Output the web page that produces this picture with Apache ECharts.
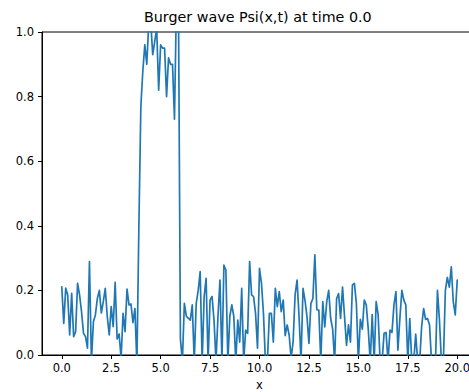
<!DOCTYPE html>
<html>
<head>
<meta charset="utf-8">
<script src="https://cdn.jsdelivr.net/npm/echarts@6/dist/echarts.min.js"></script>
<style>
html,body{margin:0;padding:0;background:#fff;overflow:hidden;}
#chart{width:469px;height:392px;}
</style>
</head>
<body>
<div id="chart"></div>
<script>
// Sample grid: x from 0 to 20 in steps of 0.1
const X_START = 0;
const X_STEP = 0.1;
// Psi(x, t=0) values (values outside [0,1] are clipped by the axes)
const psi = [
  0.211, 0.098, 0.207, 0.186, 0.062, 0.191, 0.057, 0.072, 0.222, 0.186,
  0.134, 0.067, 0.057, 0.021, 0.289, -0.02, 0.103, 0.124, 0.175, 0.200,
  0.130, 0.165, 0.206, 0.120, 0.062, 0.150, 0.088, 0.225, 0.050, 0.065,
  -0.01, 0.129, 0.072, 0.204, 0.155, 0.158, 0.100, 0.144, -0.03, 0.400,
  0.770, 0.880, 0.960, 0.900, 1.030, 1.030, 0.930, 0.970, 1.010, 0.820,
  0.960, 0.950, 0.950, 0.800, 0.920, 0.900, 0.900, 0.730, 1.100, 1.100,
  0.050, -0.02, 0.160, 0.120, 0.114, 0.108, 0.155, -0.02, 0.160, 0.200,
  0.258, -0.02, 0.180, 0.237, -0.02, 0.170, 0.181, 0.108, -0.02, 0.120,
  0.232, -0.02, 0.278, 0.263, -0.02, 0.120, 0.155, 0.120, -0.02, 0.108,
  0.040, 0.206, -0.02, 0.077, 0.067, 0.289, 0.186, 0.181, 0.129, 0.021,
  0.268, 0.222, 0.129, -0.02, -0.02, 0.129, 0.129, 0.040, 0.206, 0.150,
  0.196, 0.134, 0.170, 0.060, 0.093, 0.062, -0.01, 0.041, 0.186, 0.232,
  0.120, -0.02, 0.206, 0.170, 0.120, 0.036, 0.160, 0.175, 0.310, 0.140,
  0.139, -0.02, 0.165, 0.087, 0.165, 0.200, 0.113, 0.080, -0.02, 0.175,
  0.190, 0.113, 0.210, 0.120, 0.030, 0.093, 0.040, 0.217, 0.222, 0.160,
  -0.02, 0.110, 0.080, 0.170, 0.155, 0.080, -0.02, 0.125, -0.02, 0.165,
  0.125, -0.02, -0.02, 0.067, 0.070, -0.02, 0.077, 0.070, 0.155, 0.196,
  0.015, 0.114, 0.200, 0.170, 0.155, -0.02, 0.113, -0.02, -0.02, 0.065,
  -0.02, -0.02, 0.088, 0.144, 0.110, 0.113, 0.093, -0.02, -0.02, -0.02,
  0.200, 0.110, -0.02, -0.02, 0.200, 0.240, 0.210, 0.273, 0.165, 0.124,
  0.232
];
const xTickValues = [0, 2.5, 5, 7.5, 10, 12.5, 15, 17.5, 20];
const yTickValues = [0, 0.2, 0.4, 0.6, 0.8, 1.0];
const titleText = 'Burger wave Psi(x,t) at time 0.0';
const xAxisName = 'x';

const seriesData = psi.map((v, i) => [+(X_START + i * X_STEP).toFixed(1), v]);

const FONT = 'DejaVu Sans';
const chart = echarts.init(document.getElementById('chart'), null, {renderer: 'svg'});
chart.setOption({
  animation: false,
  backgroundColor: '#ffffff',
  graphic: [{
    type: 'text',
    left: 259 - 115,
    top: 10,
    style: {
      text: titleText,
      fontFamily: FONT,
      fontSize: 14.3,
      fill: '#000'
    }
  }],
  grid: {
    left: 42, width: 435, top: 32, height: 323,
    outerBoundsMode: 'none',
    containLabel: false,
    show: true, borderColor: '#000', borderWidth: 1, backgroundColor: 'transparent'
  },
  xAxis: {
    type: 'value',
    min: -1, max: 21,
    name: xAxisName,
    nameLocation: 'middle',
    nameGap: 24,
    nameTextStyle: {fontFamily: FONT, fontSize: 11.5, color: '#000'},
    splitLine: {show: false},
    axisLine: {show: true, onZero: false, lineStyle: {color: '#000', width: 1}},
    axisTick: {show: true, inside: false, length: 4, lineStyle: {color: '#000', width: 1}, customValues: xTickValues},
    axisLabel: {
      show: true, margin: 7, color: '#000', fontFamily: FONT, fontSize: 11.5,
      customValues: xTickValues,
      formatter: v => v.toFixed(1)
    }
  },
  yAxis: {
    type: 'value',
    min: 0, max: 1, interval: 0.2,
    splitLine: {show: false},
    axisLine: {show: true, onZero: false, lineStyle: {color: '#000', width: 1}},
    axisTick: {show: true, inside: false, length: 4, lineStyle: {color: '#000', width: 1}, customValues: yTickValues},
    axisLabel: {
      show: true, margin: 8, color: '#000', fontFamily: FONT, fontSize: 11.5,
      customValues: yTickValues,
      formatter: v => v.toFixed(1)
    }
  },
  series: [{
    type: 'line',
    data: seriesData,
    showSymbol: false,
    symbol: 'none',
    clip: true,
    lineStyle: {color: '#1f77b4', width: 1.7, join: 'round', cap: 'round'}
  }]
});
</script>
</body>
</html>
